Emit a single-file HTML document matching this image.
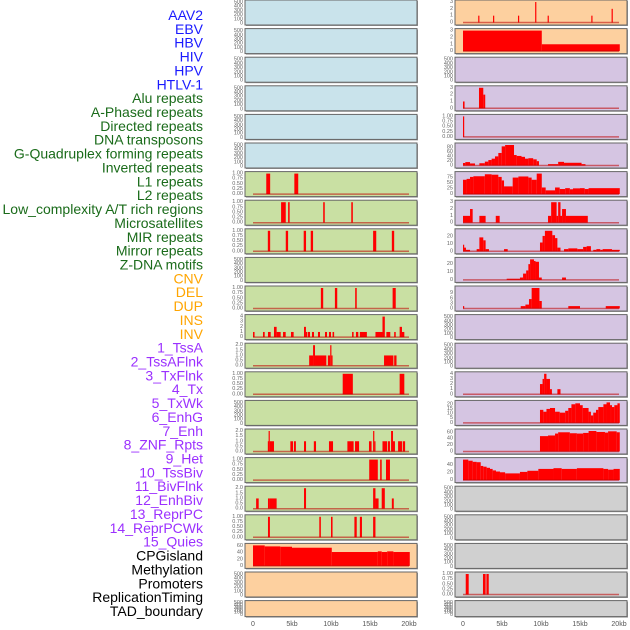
<!DOCTYPE html>
<html><head><meta charset="utf-8"><style>
body{margin:0;background:#fff;width:630px;height:630px;overflow:hidden}
svg{display:block;font-family:"Liberation Sans",sans-serif}
</style></head><body>
<svg id="chart" width="630" height="630" viewBox="0 0 630 630"></svg>
<script>
const trackLabels=["AAV2","EBV","HBV","HIV","HPV","HTLV-1","Alu repeats","A-Phased repeats","Directed repeats","DNA transposons","G-Quadruplex forming repeats","Inverted repeats","L1 repeats","L2 repeats","Low_complexity A/T rich regions","Microsatellites","MIR repeats","Mirror repeats","Z-DNA motifs","CNV","DEL","DUP","INS","INV","1_TssA","2_TssAFlnk","3_TxFlnk","4_Tx","5_TxWk","6_EnhG","7_Enh","8_ZNF_Rpts","9_Het","10_TssBiv","11_BivFlnk","12_EnhBiv","13_ReprPC","14_ReprPCWk","15_Quies","CPGisland","Methylation","Promoters","ReplicationTiming","TAD_boundary"];
const labelGroups=[6,13,5,15,5];
const groupColors=["#1a1aff","#1a6b1a","#ffa500","#9b30ff","#000000"];
const xTicks=[0,5,10,15,20];
const xTickLabels=["0","5kb","10kb","15kb","20kb"];
const emptyTicks=[0,100,200,300,400,500];
const t01=[0,0.25,0.5,0.75,1];
const t02=[0,0.5,1,1.5,2];
// left column segments [startKb,endKb,value]
const L6=[[1.7,2.2,1],[5.3,5.8,1]];
const L7=[[3.6,4.2,1],[4.5,4.7,1],[9.0,9.2,1],[12.6,12.8,1]];
const L8=[[1.9,2.2,1],[4.2,4.5,1],[6.5,6.8,1],[7.4,7.7,1],[15.4,15.8,1],[17.8,18.1,1]];
const L10=[[8.7,9.0,1],[10.5,10.8,1],[13.1,13.3,1],[17.9,18.3,1]];
const L11=[[0,0.2,1],[1.28,1.5,1],[1.92,2.27,1],[2.69,3.03,2],[3.03,3.55,1],[3.85,4.19,1],[4.87,5.21,1],[6.54,6.79,2],[6.79,6.97,1],[7.05,7.31,1],[7.56,7.82,1],[8.33,8.59,1],[9.23,9.49,1],[9.74,10.0,1],[10.2,10.4,1],[12.7,12.9,1],[13.2,13.5,1],[13.7,14.6,1],[15.7,16.6,1],[16.6,16.9,4],[17.1,17.6,1],[18.1,18.3,1],[18.8,19.1,2],[19.1,19.4,1]];
const L12=[[7.2,7.7,1],[7.7,7.95,2],[7.95,9.4,1],[9.6,9.9,1],[9.9,10.05,2],[10.05,10.15,1],[16.8,18.0,1],[18.1,18.4,1]];
const L13=[[11.5,12.8,1],[18.8,19.4,1]];
const L15=[[1.9,2.0,1],[2.0,2.14,2],[2.14,2.69,1],[4.79,5.13,1],[5.25,5.5,1],[6.54,6.8,1],[7.8,8.08,1],[9.74,10.26,1],[12.1,12.9,1],[13.08,13.6,1],[14.87,15.2,1],[15.4,15.55,2],[15.55,15.7,1],[16.6,17.2,1],[17.3,17.56,1],[17.7,17.95,2],[17.95,18.2,1],[18.6,19.1,1],[19.2,19.5,1]];
const L16=[[14.9,16.0,1],[16.3,16.5,1],[17.05,17.56,1]];
const L17=[[0.4,0.73,1],[1.92,2.17,1],[2.17,3.03,1],[6.54,6.8,2],[15.4,15.7,2],[15.7,16.1,1],[16.5,16.9,2],[17.8,18.05,1]];
const L18=[[1.92,2.17,1],[8.5,8.7,1],[10.0,10.2,1],[13.0,13.3,1],[13.7,13.97,1],[15.4,15.7,1]];
const L19=[[0,1.5,62],[1.5,3.5,59],[3.5,5.0,58],[5.0,10.1,55],[10.1,16,42],[16,16.5,44],[16.5,17.2,42],[17.2,18,44],[18,20.1,42]];
// right column
const R0=[[1.95,2.1,1],[3.85,4.0,1],[7.05,7.2,1],[9.25,9.4,3],[10.85,11.0,1],[16.45,16.6,1],[19.05,19.2,2]];
const R1=[[0,10.1,3],[10.1,20.1,1]];
const R3=[[0,0.2,1],[2.05,2.6,3],[2.6,2.85,2]];
const R4=[[0,0.15,1]];
const R5=[[0,0.3,11],[0.3,0.9,15],[0.9,1.54,9],[2.1,2.8,10],[2.8,3.25,17],[3.25,3.67,24],[3.67,4.1,30],[4.1,4.53,40],[4.53,4.96,55],[4.96,5.4,84],[5.4,6.54,90],[6.54,6.88,46],[6.88,7.5,42],[7.5,7.95,38],[7.95,8.38,30],[8.38,9.0,32],[9.0,9.45,27],[9.45,9.74,19],[10.9,12.2,6],[12.2,12.95,16],[12.95,15.2,12],[15.2,15.7,6]];
const R6=[[0,0.46,65],[0.46,0.9,69],[0.9,1.33,78],[1.33,2.8,81],[2.8,3.67,90],[3.67,4.53,88],[4.53,4.96,78],[4.96,5.26,62],[5.26,6.37,35],[6.37,7.1,75],[7.1,8.38,80],[8.38,8.8,75],[8.8,9.45,65],[9.45,10.1,93],[10.1,10.6,30],[10.6,11.8,17],[11.8,12.4,30],[12.4,13.1,23],[13.1,13.7,27],[13.7,14.1,22],[14.1,15.0,26],[15.0,15.6,27],[15.6,16.1,23],[16.1,20.1,27]];
const R7=[[0,0.9,1],[0.9,1.24,2],[2.1,2.9,1],[4.2,4.7,1],[10.9,11.3,1],[11.3,12.0,3],[12.0,12.2,1],[12.2,12.5,3],[12.5,12.7,1],[12.7,13.2,2],[13.2,16.0,1]];
const R8=[[0,0.13,9],[0.13,0.38,5],[0.38,0.9,2],[1.75,2.1,3],[2.1,2.6,19],[2.6,2.9,15],[2.9,3.33,3],[5.26,5.73,3],[9.87,10.2,12],[10.2,10.5,21],[10.5,11.45,28],[11.45,11.8,22],[11.8,12.1,18],[12.1,12.5,5],[12.95,13.5,3],[13.5,14.66,4],[14.66,15.4,3],[15.4,15.85,6],[15.85,16.4,7],[16.7,17.1,2],[17.1,17.6,3],[17.6,17.9,2],[17.9,19.1,3],[19.1,20.1,2]];
const R9=[[5.6,7.3,1.5],[7.3,7.7,3],[7.7,8.1,8],[8.1,8.38,12],[8.38,8.6,20],[8.6,9.1,26],[9.1,9.3,24],[9.3,9.74,23],[9.74,10.1,3],[12.7,13.2,3]];
const R10=[[0,0.15,1.4],[7.4,8.0,1.4],[8.0,8.46,2.3],[8.46,8.8,5.5],[8.8,9.8,12],[9.8,10.1,4.4],[13.5,15.0,1.4],[18.3,20.1,1.4]];
const R13=[[9.87,10.2,2],[10.2,10.4,3],[10.4,10.7,4],[10.7,11.15,3],[11.15,11.4,1],[12.1,12.5,1]];
const R14=[[9.87,10.3,14],[10.3,10.7,12],[10.7,11.15,15],[11.15,11.8,16],[11.8,12.4,12],[12.4,13.1,11],[13.1,13.5,13],[13.5,13.9,16],[13.9,14.4,20],[14.4,15.0,21],[15.0,15.35,19],[15.35,16.1,16],[16.1,16.4,12],[16.4,16.7,8],[16.7,17.05,11],[17.05,17.35,14],[17.35,18.0,17],[18.0,18.4,20],[18.4,18.85,22],[18.85,19.1,19],[19.1,19.4,17],[19.4,19.8,19],[19.8,20.1,21]];
const R15=[[9.87,10.9,48],[10.9,11.8,50],[11.8,12.2,56],[12.2,13.7,60],[13.7,14.6,57],[14.6,15.4,56],[15.4,16.1,58],[16.1,17.1,64],[17.1,18.2,61],[18.2,18.6,59],[18.6,19.7,63],[19.7,20.1,60]];
const R16=[[0,0.68,55],[0.68,1.24,52],[1.24,1.75,49],[1.75,2.27,48],[2.27,2.6,38],[2.6,3.03,36],[3.03,3.46,33],[3.46,3.8,30],[3.8,4.23,26],[4.23,4.74,23],[4.74,5.4,21],[5.4,7.3,18],[7.3,8.25,22],[8.25,9.66,25],[9.66,11.6,30],[11.6,12.65,32],[12.65,14.6,30],[14.6,18.0,32],[18.0,18.6,30],[18.6,19.3,28],[19.3,20.1,30]];
const R20=[[0.35,0.73,1],[2.56,2.9,1],[3.0,3.3,1]];

const C={lb:"#c9e3eb",gr:"#c9e0a3",or:"#fdd09f",pu:"#d5c5e2",gy:"#d0d0d0"};
const left=[["lb",null],["lb",null],["lb",null],["lb",null],["lb",null],["lb",null],["gr",L6,t01],["gr",L7,t01],["gr",L8,t01],["gr",null],["gr",L10,t01],["gr",L11,[0,1,2,3,4]],["gr",L12,t02],["gr",L13,t01],["gr",null],["gr",L15,t02],["gr",L16,t01],["gr",L17,t02],["gr",L18,t01],["or",L19,[0,20,40,60]],["or",null],["or",null]];
const right=[["or",R0,[0,1,2,3]],["or",R1,[0,1,2,3]],["pu",null],["pu",R3,[0,1,2,3]],["pu",R4,t01],["pu",R5,[0,20,40,60,80]],["pu",R6,[0,25,50,75]],["pu",R7,[0,1,2,3]],["pu",R8,[0,10,20]],["pu",R9,[0,10,20]],["pu",R10,[0,3,6,9]],["pu",null],["pu",null],["pu",R13,[0,1,2,3,4]],["pu",R14,[0,5,10,15,20]],["pu",R15,[0,20,40,60]],["pu",R16,[0,20,40]],["gy",null],["gy",null],["gy",null],["gy",R20,t01],["gy",null]];

const svg=document.getElementById('chart');
const NS="http://www.w3.org/2000/svg";
function mk(tag,at,parent){const e=document.createElementNS(NS,tag);for(const k in at)e.setAttribute(k,at[k]);(parent||svg).appendChild(e);return e;}
function fmt(v,ticks){const dec=ticks.some(t=>t%1!==0);if(!dec)return String(v);return ticks.some(t=>(t*100)%50!==0)?v.toFixed(2):v.toFixed(1);}

// labels
let gi=0,cnt=0;
trackLabels.forEach((lab,i)=>{
  while(cnt>=labelGroups[gi]){cnt-=labelGroups[gi];gi++;}
  const t=mk('text',{x:203,y:15+13.86*i,'text-anchor':'end','dominant-baseline':'central','font-size':14,fill:groupColors[gi]});
  t.textContent=lab;
  
  
  cnt++;
});

function drawPanel(x0,row,spec,colName){
  const T=row*28.6, H=row===21?16:25, W=172;
  const g=mk('g',{});
  
  
  mk('rect',{x:x0+1,y:T+1,width:W,height:H,fill:'#999'},g);
  mk('rect',{x:x0,y:T,width:W,height:H,fill:C[spec[0]],stroke:'#666','stroke-width':1},g);
  const segs=spec[1];
  const X=kb=>x0+8+kb*7.8;
  if(!segs){
    emptyTicks.forEach(v=>{
      const y=T+H-1.5-(v/500)*(H-4);
      const t=mk('text',{x:x0-2,y:y,'text-anchor':'end','dominant-baseline':'central','font-size':5.5,fill:'#666'},g);
      t.textContent=v;
    });
    return;
  }
  const ticks=spec[2];
  const dmax=Math.max(ticks[ticks.length-1],...segs.map(s=>s[2]));
  const y0=T+H-2.5, y1=T+2;
  const Y=v=>y0-(v/dmax)*(y0-y1);
  ticks.forEach(v=>{
    const t=mk('text',{x:x0-2,y:Y(v),'text-anchor':'end','dominant-baseline':'central','font-size':5.5,fill:'#666'},g);
    t.textContent=fmt(v,ticks);
  });
  segs.forEach((s,i)=>{
    const r=mk('rect',{x:X(s[0]),y:Y(s[2]),width:Math.max(X(s[1])-X(s[0]),1.2),height:y0-Y(s[2]),fill:'#ff0000'},g);
    
    
  });
  mk('line',{x1:X(0),x2:X(20),y1:y0,y2:y0,stroke:'rgba(190,0,0,0.55)','stroke-width':1.5},g);
}
left.forEach((s,i)=>drawPanel(245,i,s,'left'));
right.forEach((s,i)=>drawPanel(455,i,s,'right'));

[245,455].forEach((x0,ci)=>{
  xTicks.forEach((v,i)=>{
    const t=mk('text',{x:x0+8+v*7.8,y:626,'text-anchor':'middle','font-size':7,fill:'#555'});
    t.textContent=xTickLabels[i];
    
    
  });
});
</script>
</body></html>
